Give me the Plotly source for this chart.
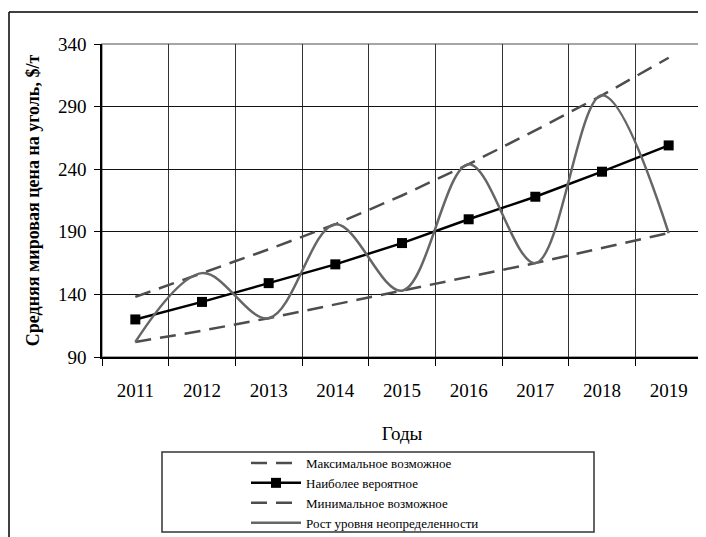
import plotly.graph_objects as go

years = ["2011", "2012", "2013", "2014", "2015", "2016", "2017", "2018", "2019"]
max_possible = [138, 157, 176, 196, 219, 244, 271, 299, 329]
most_likely = [120, 134, 149, 164, 181, 200, 218, 238, 259]
min_possible = [102, 111, 121, 132, 143, 154, 165, 177, 189]
uncertainty = [102, 157, 121, 196, 143, 244, 165, 299, 189]

SERIF = "Liberation Serif, Times New Roman, serif"

fig = go.Figure()
fig.add_trace(go.Scatter(x=years, y=max_possible, name="Максимальное возможное", mode="lines",
                         line=dict(color="#4d4d4d", width=2.5, dash="16px,9px")))
fig.add_trace(go.Scatter(x=years, y=most_likely, name="Наиболее вероятное", mode="lines+markers",
                         line=dict(color="#000000", width=2.5),
                         marker=dict(symbol="square", size=10, color="#000000")))
fig.add_trace(go.Scatter(x=years, y=min_possible, name="Минимальное возможное", mode="lines",
                         line=dict(color="#4d4d4d", width=2.5, dash="16px,9px")))
fig.add_trace(go.Scatter(x=years, y=uncertainty, name="Рост уровня неопределенности", mode="lines",
                         line=dict(color="#666666", width=2.5, shape="spline", smoothing=1)))

# page has an 8px body margin; figure is sized to fit the window
O = 8
W, H = 706 - O, 537 - O
# plot area in page coords: x 102..702, y 44..357
L, R, T = 102 - O, W - (702 - O), 44 - O
B = H - (357 - O)
pw, ph = W - L - R, H - T - B

def px(x):  # page x -> paper
    return (x - O - L) / pw

def py(y):  # page y -> paper
    return (H - B - (y - O)) / ph

shapes = [
    dict(type="rect", xref="paper", yref="paper", x0=0, x1=1, y0=0, y1=1,
         line=dict(color="#888888", width=1.5), layer="below"),
    dict(type="line", xref="paper", yref="paper", x0=px(9), x1=px(720), y0=py(12), y1=py(12),
         line=dict(color="#000000", width=1.5)),
    dict(type="line", xref="paper", yref="paper", x0=px(9), x1=px(9), y0=py(12), y1=py(560),
         line=dict(color="#000000", width=1.5)),
    dict(type="rect", xref="paper", yref="paper", x0=px(162), x1=px(594), y0=py(532), y1=py(452),
         line=dict(color="#333333", width=1.5)),
]

fig.update_layout(
    width=W, height=H,
    margin=dict(l=L, r=R, t=T, b=B, autoexpand=False),
    paper_bgcolor="white", plot_bgcolor="white",
    font=dict(family=SERIF, color="#000000"),
    shapes=shapes,
    showlegend=True,
    legend=dict(x=px(246), y=py(448), xanchor="left", yanchor="top",
                font=dict(family=SERIF, size=13, color="#000000"),
                bgcolor="rgba(0,0,0,0)", borderwidth=0, tracegroupgap=0,
                itemwidth=50),
    xaxis=dict(type="category", categoryorder="array", categoryarray=years,
               range=[-0.5, 8.5], tickson="boundaries", automargin=False,
               showgrid=True, gridcolor="#333333", gridwidth=1,
               ticks="outside", ticklen=7, tickcolor="#000000",
               ticklabelstandoff=15,
               showline=True, linecolor="#000000", linewidth=1.5,
               tickfont=dict(family=SERIF, size=19),
               title=dict(text="Годы", font=dict(family=SERIF, size=19), standoff=27)),
    yaxis=dict(range=[90, 340], dtick=50, tick0=90, automargin=False,
               showgrid=True, gridcolor="#111111", gridwidth=1,
               ticks="outside", ticklen=6, tickcolor="#000000",
               ticklabelstandoff=4,
               showline=True, linecolor="#000000", linewidth=1.5,
               zeroline=False,
               tickfont=dict(family=SERIF, size=19),
               title=dict(text="<b>Средняя мировая цена на уголь, $/т</b>",
                          font=dict(family=SERIF, size=18), standoff=14)),
)

fig.write_html("out.html")
